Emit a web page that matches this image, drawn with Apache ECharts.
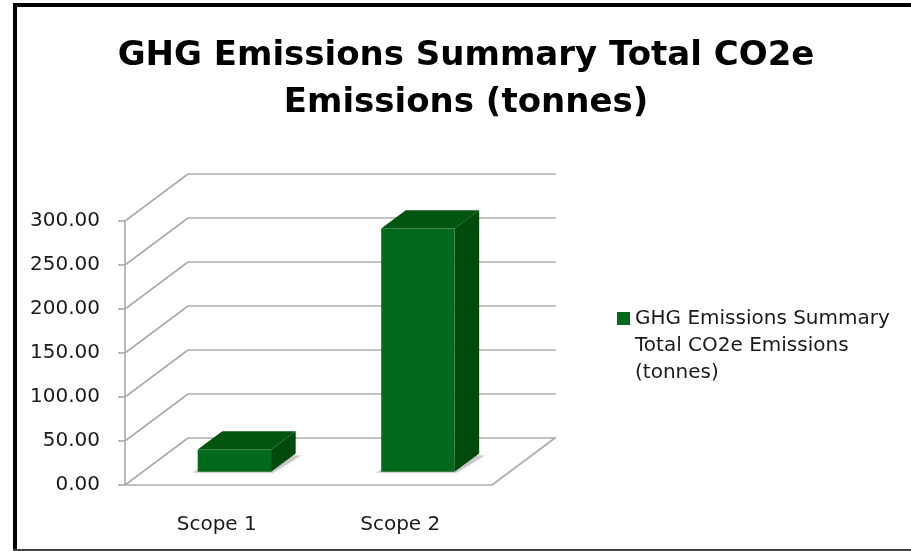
<!DOCTYPE html>
<html>
<head>
<meta charset="utf-8">
<script src="https://cdn.jsdelivr.net/npm/echarts@6/dist/echarts.min.js"></script>
<style>
html,body{margin:0;padding:0;background:#fff;}
#chart{width:911px;height:551px;}
</style>
</head>
<body>
<div id="chart"></div>
<script>
// data
var categories = ['Scope 1', 'Scope 2'];
var emissions = [25.3, 276.5];
var seriesName = 'GHG Emissions Summary Total CO2e Emissions (tonnes)';
var yMin = 0, yMax = 300, yStep = 50;
var wallTicks = [0, 50, 100, 150, 200, 250, 300];

// fake 3d depth (px)
var DX = 63, DY = -47;
var gridCol = '#adadad';
var txtFont = 'DejaVu Sans';

var chart = echarts.init(document.getElementById('chart'));

function wallItem(params, api) {
    var cs = params.coordSys;
    var y = api.coord([api.value(0), api.value(1)])[1];
    var kids = [{
        type: 'line',
        shape: {x1: cs.x, y1: y, x2: cs.x + DX, y2: y + DY},
        style: {stroke: gridCol, lineWidth: 1.7}
    }];
    // right edge of the floor
    if (api.value(1) === yMin) {
        kids.push({
            type: 'line',
            shape: {x1: cs.x + cs.width, y1: y, x2: cs.x + cs.width + DX, y2: y + DY},
            style: {stroke: gridCol, lineWidth: 1.7}
        });
    }
    return {type: 'group', children: kids};
}

function barItem(params, api) {
    var base = api.coord([api.value(0), 0]);
    var top = api.coord([api.value(0), api.value(1)]);
    var w = api.size([1, 0])[0] * 0.4;
    // bar sits a bit inside the floor depth
    var ox = DX * 0.28, oy = DY * 0.28;
    var dx = DX * 0.39, dy = DY * 0.39;
    var cx = base[0] + ox;
    var xl = cx - w / 2, xr = cx + w / 2;
    var yb = base[1] + oy, yt = top[1] + oy;
    return {
        type: 'group',
        children: [{
            type: 'polygon',
            shape: {points: [[xl - 5, yb + 1], [xr + 2, yb + 1], [xr + dx + 6, yb + dy + 2], [xl + dx, yb + dy]]},
            style: {fill: 'rgba(0,0,0,0.18)', shadowBlur: 6, shadowColor: 'rgba(0,0,0,0.4)'}
        }, {
            type: 'polygon',
            shape: {points: [[xr, yt], [xr + dx, yt + dy], [xr + dx, yb + dy], [xr, yb]]},
            style: {fill: '#004a0c'}
        }, {
            type: 'polygon',
            shape: {points: [[xl, yt], [xr, yt], [xr + dx, yt + dy], [xl + dx, yt + dy]]},
            style: {fill: '#01550f'}
        }, {
            type: 'rect',
            shape: {x: xl, y: yt, width: w, height: yb - yt},
            style: {fill: '#046a1b'}
        }]
    };
}

var option = {
    backgroundColor: '#fff',
    animation: false,
    title: {
        text: 'GHG Emissions Summary Total CO2e\nEmissions (tonnes)',
        left: 466,
        textAlign: 'center',
        top: 33,
        padding: 0,
        textStyle: {
            fontFamily: txtFont,
            fontWeight: 'bold',
            fontSize: 34,
            lineHeight: 47,
            color: '#000'
        }
    },
    legend: {
        data: [seriesName],
        left: 612,
        top: 300,
        // square sits at the top of a tall icon box so it lines up with the first text line
        icon: 'path://M0,0h13v13h-13z M13,67',
        itemWidth: 13,
        itemHeight: 67,
        formatter: function () {
            return 'GHG Emissions Summary\nTotal CO2e Emissions\n(tonnes)';
        },
        textStyle: {
            fontFamily: txtFont,
            fontSize: 20,
            lineHeight: 27,
            color: '#1a1a1a'
        }
    },
    grid: [
        {left: 125, top: 221, width: 367, height: 264},
        {left: 125 + DX, top: 221 + DY, width: 368, height: 264}
    ],
    xAxis: [{
        type: 'category',
        gridIndex: 0,
        data: categories,
        axisLine: {lineStyle: {color: gridCol, width: 1.7}},
        axisTick: {length: 7, lineStyle: {color: gridCol, width: 1.7}},
        axisLabel: {fontFamily: txtFont, fontSize: 20, color: '#1a1a1a', margin: 30}
    }, {
        type: 'category',
        gridIndex: 1,
        data: categories,
        show: false
    }],
    yAxis: [{
        type: 'value',
        gridIndex: 0,
        min: yMin, max: yMax, interval: yStep,
        axisLine: {show: true, lineStyle: {color: gridCol, width: 1.7}},
        axisTick: {show: true, length: 7, lineStyle: {color: gridCol, width: 1.7}},
        splitLine: {show: false},
        axisLabel: {
            fontFamily: txtFont, fontSize: 20, color: '#1a1a1a', margin: 25,
            formatter: function (v) { return v.toFixed(2); }
        }
    }, {
        type: 'value',
        gridIndex: 1,
        min: yMin, max: yMax, interval: yStep,
        axisLine: {show: false},
        axisTick: {show: false},
        axisLabel: {show: false},
        splitLine: {show: true, lineStyle: {color: gridCol, width: 1.7}}
    }],
    graphic: [
        {type: 'line', shape: {x1: 15, y1: 3, x2: 15, y2: 551}, style: {stroke: '#000', lineWidth: 4}},
        {type: 'line', shape: {x1: 13, y1: 5, x2: 911, y2: 5}, style: {stroke: '#000', lineWidth: 4}},
        {type: 'line', shape: {x1: 13, y1: 550, x2: 911, y2: 550}, style: {stroke: '#444', lineWidth: 2}}
    ],
    series: [{
        name: 'walls',
        type: 'custom',
        xAxisIndex: 0,
        yAxisIndex: 0,
        clip: false,
        silent: true,
        z: 1,
        renderItem: wallItem,
        data: wallTicks.map(function (v) { return [0, v]; })
    }, {
        name: seriesName,
        type: 'custom',
        xAxisIndex: 0,
        yAxisIndex: 0,
        clip: false,
        z: 5,
        itemStyle: {color: '#046a1b'},
        renderItem: barItem,
        data: emissions.map(function (v, i) { return [i, v]; })
    }]
};

chart.setOption(option);
</script>
</body>
</html>
